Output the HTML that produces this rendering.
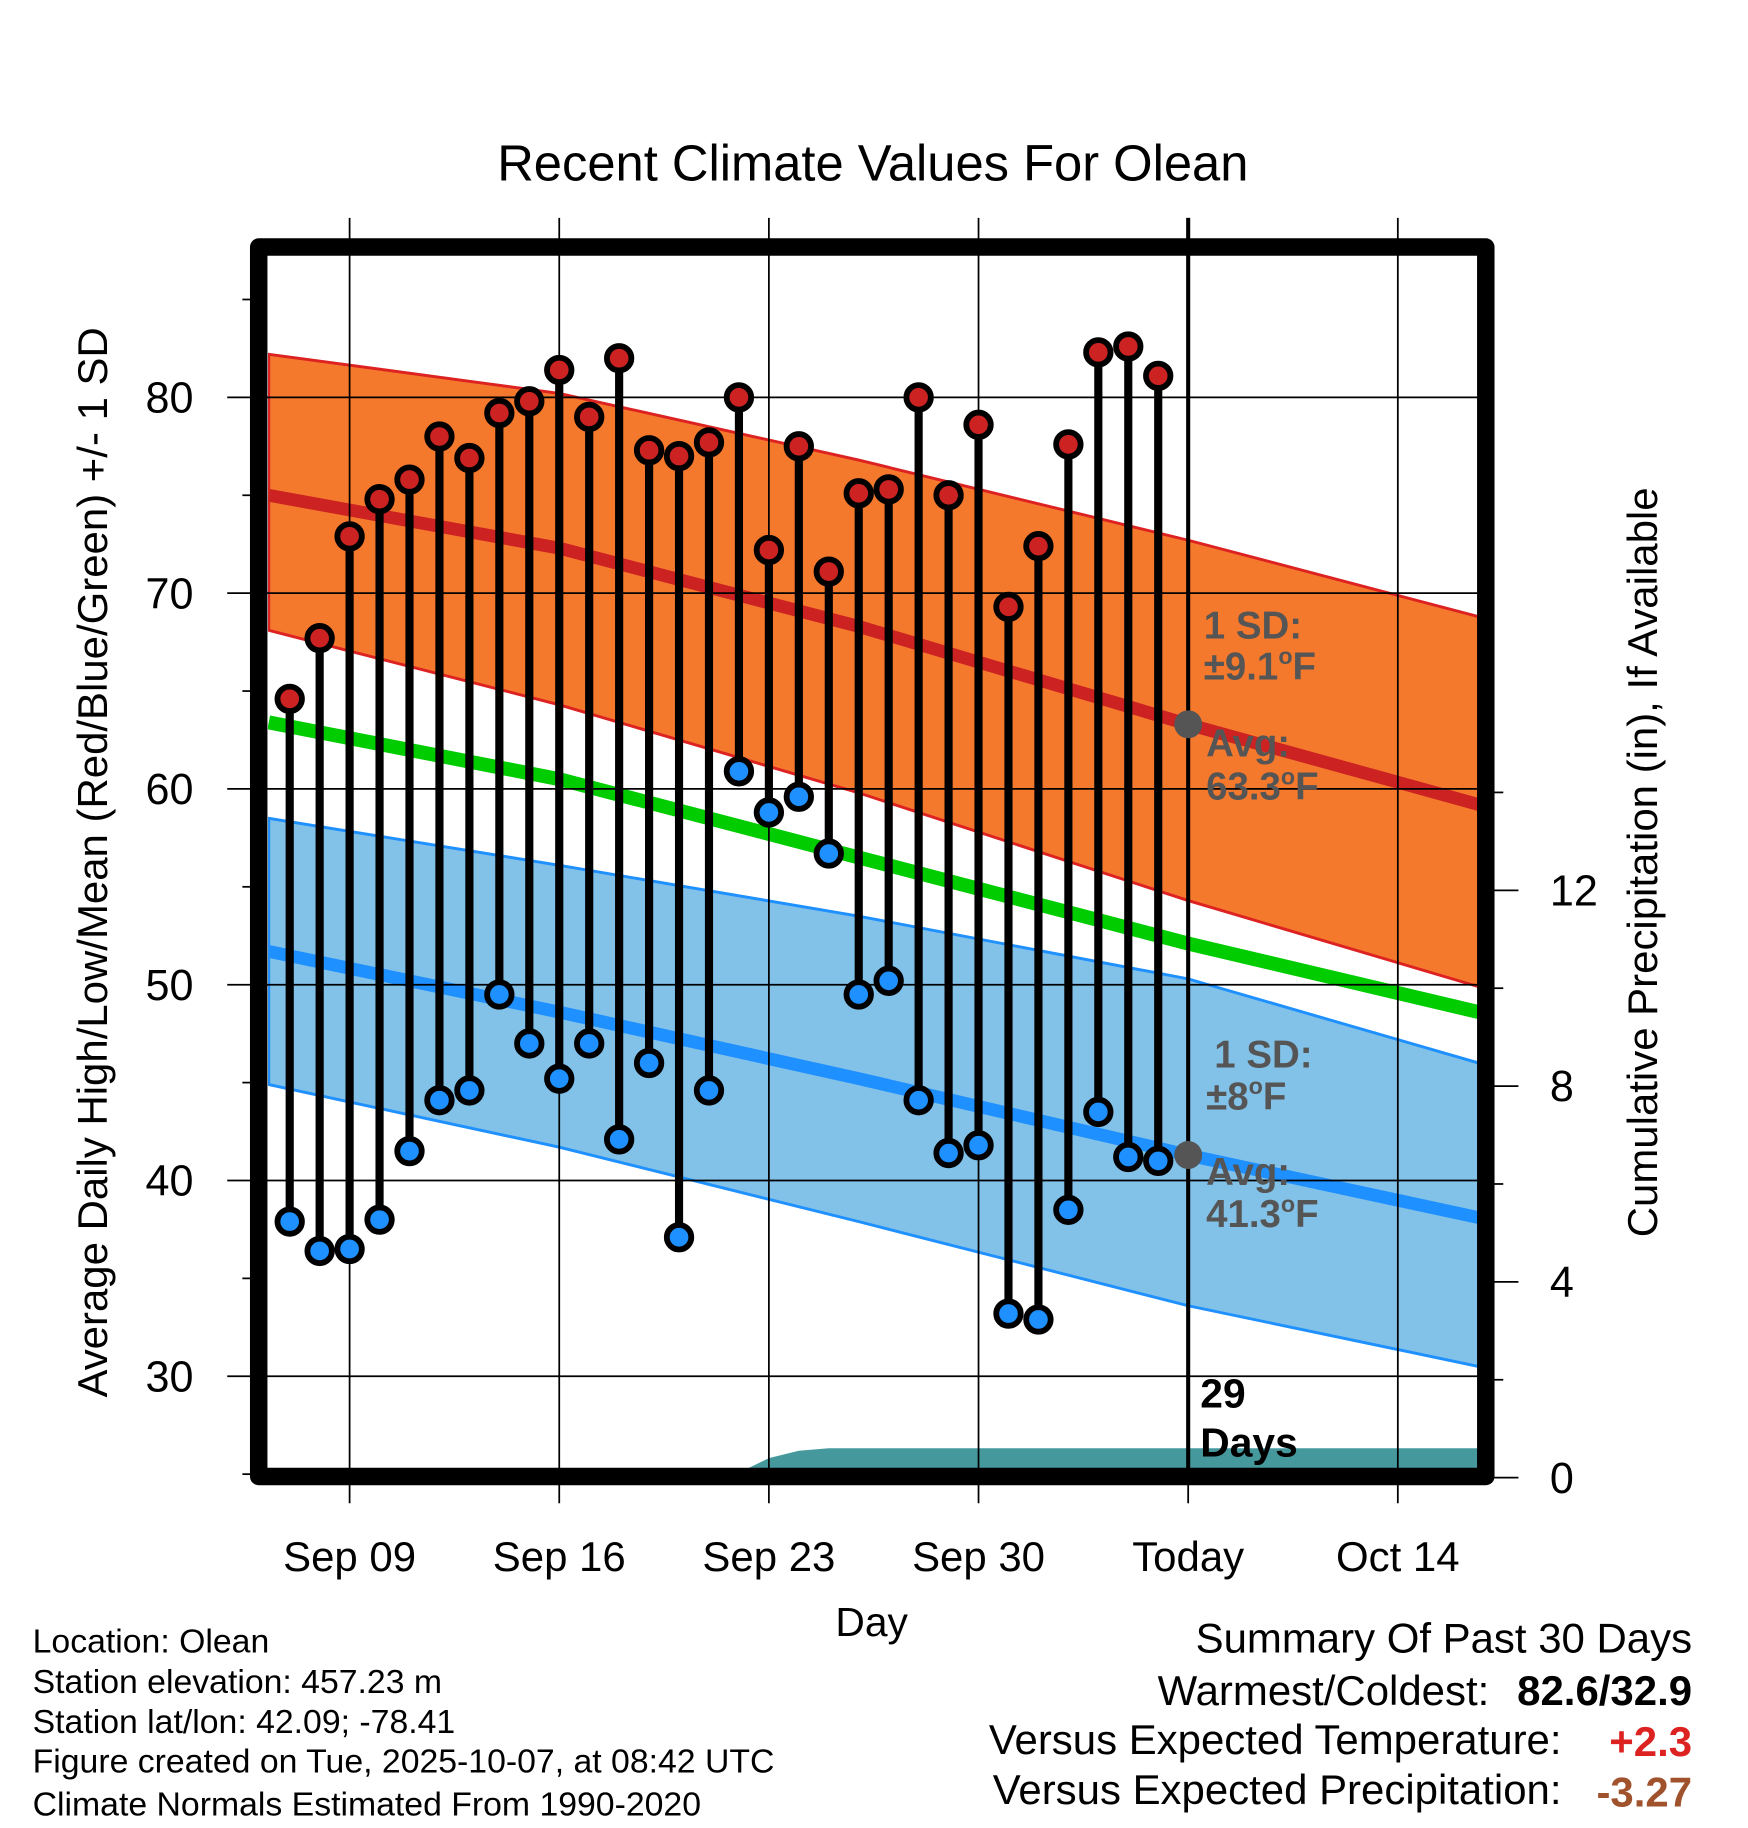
<!DOCTYPE html>
<html><head><meta charset="utf-8"><style>
html,body{margin:0;padding:0;background:#fff}
svg{display:block;font-family:"Liberation Sans",Arial,sans-serif}
</style></head><body>
<svg id="chart" width="1748" height="1828" viewBox="0 0 1500 1568.65" preserveAspectRatio="none" xmlns="http://www.w3.org/2000/svg">
<text x="749" y="155" font-size="43.5" text-anchor="middle">Recent Climate Values For Olean</text>
<g id="bands"></g><g id="grid"></g><g id="marks"></g><g id="frame"></g>
<text transform="translate(92,740) rotate(-90)" font-size="36" text-anchor="middle">Average Daily High/Low/Mean (Red/Blue/Green) +/- 1 SD</text>
<text transform="translate(1422,740) rotate(-90)" font-size="36" text-anchor="middle">Cumulative Precipitation (in), If Available</text>
<text x="748" y="1404" font-size="35" text-anchor="middle">Day</text>
<g font-size="33" font-weight="bold" fill="#555">
<text x="1033" y="548">1 SD:</text><text x="1033" y="583">±9.1<tspan font-size="20" dy="-13">o</tspan><tspan dy="13">F</tspan></text>
<text x="1035" y="649">Avg:</text><text x="1035" y="686">63.3<tspan font-size="20" dy="-13">o</tspan><tspan dy="13">F</tspan></text>
</g>
<g font-size="33" font-weight="bold" fill="#555">
<text x="1042" y="916">1 SD:</text><text x="1035" y="952">±8<tspan font-size="20" dy="-13">o</tspan><tspan dy="13">F</tspan></text>
<text x="1035" y="1017">Avg:</text><text x="1035" y="1053">41.3<tspan font-size="20" dy="-13">o</tspan><tspan dy="13">F</tspan></text>
</g>
<g font-size="35" font-weight="bold"><text x="1030" y="1208">29</text><text x="1030" y="1250">Days</text></g>
<g font-size="29">
<text x="28" y="1418">Location: Olean</text>
<text x="28" y="1453">Station elevation: 457.23 m</text>
<text x="28" y="1487">Station lat/lon: 42.09; -78.41</text>
<text x="28" y="1521">Figure created on Tue, 2025-10-07, at 08:42 UTC</text>
<text x="28" y="1558">Climate Normals Estimated From 1990-2020</text>
</g>
<g font-size="36" text-anchor="end">
<text x="1452" y="1418">Summary Of Past 30 Days</text>
<text x="1278" y="1463">Warmest/Coldest:</text>
<text x="1452" y="1463" font-weight="bold">82.6/32.9</text>
<text x="1340" y="1505">Versus Expected Temperature:</text>
<text x="1452" y="1507" font-weight="bold" fill="#d22">+2.3</text>
<text x="1340" y="1548">Versus Expected Precipitation:</text>
<text x="1452" y="1550" font-weight="bold" fill="#a0522d">-3.27</text>
</g>
</svg>
<script>
// data: day index 0 = Sep 7
const highs=[64.6,67.7,72.9,74.8,75.8,78.0,76.9,79.2,79.8,81.4,79.0,82.0,77.3,77.0,77.7,80.0,72.2,77.5,71.1,75.1,75.3,80.0,75.0,78.6,69.3,72.4,77.6,82.3,82.6,81.1];
const lows=[37.9,36.4,36.5,38.0,41.5,44.1,44.6,49.5,47.0,45.2,47.0,42.1,46.0,37.1,44.6,60.9,58.8,59.6,56.7,49.5,50.2,44.1,41.4,41.8,33.2,32.9,38.5,43.5,41.2,41.0];
const normDays=[-0.7,9,19,30,39.7];
const highUpper=[82.2,80.2,76.8,72.7,68.8];
const highMean=[75.0,72.3,68.3,63.3,59.2];
const highLower=[68.1,64.3,59.8,54.3,49.9];
const dailyMean=[63.4,60.5,56.5,52.1,48.6];
const lowUpper=[58.5,56.1,53.5,50.3,46.0];
const lowMean=[51.7,48.6,45.2,41.3,38.1];
const lowLower=[44.9,41.7,37.9,33.6,30.5];
const precipDays=[-0.7,14,15,16,17,18,39.7];
const precipVals=[0,0,0.1,0.4,0.55,0.6,0.6];
const tempTicks=[30,40,50,60,70,80];
const precipTicks=[0,4,8,12];
const xTickDays=[2,9,16,23,30,37];
const xTickLabels=["Sep 09","Sep 16","Sep 23","Sep 30","Today","Oct 14"];

const X=d=>248.6+d*25.7, Y=t=>341-(t-80)*16.8, P=p=>1268-p*42;
const NS="http://www.w3.org/2000/svg";
function mk(tag,parent,attrs){const e=document.createElementNS(NS,tag);for(const k in attrs)e.setAttribute(k,attrs[k]);document.getElementById(parent).appendChild(e);return e;}
function pts(ds,vs,f){return ds.map((d,i)=>X(d).toFixed(1)+","+f(vs[i]).toFixed(1));}
function curve(ds,vs){return "M"+pts(ds,vs,Y).join(" L");}
function band(ds,up,lo){return "M"+pts(ds,up,Y).join(" L")+" L"+pts(ds,lo,Y).reverse().join(" L")+"Z";}
let e;
e=mk('clipPath','bands',{id:'clip'});
const cr=document.createElementNS(NS,'rect');cr.setAttribute('x',230);cr.setAttribute('y',219);cr.setAttribute('width',1038);cr.setAttribute('height',1042);e.appendChild(cr);
const g=mk('g','bands',{'clip-path':'url(#clip)'});g.id='bandg';
e=mk('path','bandg',{d:band(normDays,highUpper,highLower),fill:'#f5792d',stroke:'#d22',"stroke-width":2.5});

e=mk('path','bandg',{d:band(normDays,lowUpper,lowLower),fill:'#82c1e8',stroke:'#1e90ff',"stroke-width":2.5});

e=mk('path','bandg',{d:curve(normDays,highMean),fill:'none',stroke:'#cc2222',"stroke-width":11});

e=mk('path','bandg',{d:curve(normDays,lowMean),fill:'none',stroke:'#1e90ff',"stroke-width":11});

e=mk('path','bandg',{d:curve(normDays,dailyMean),fill:'none',stroke:'#00cc00',"stroke-width":12});

e=mk('path','bandg',{d:"M"+pts(precipDays,precipVals,P).join(" L")+" L"+X(39.7)+","+P(0)+" L"+X(-0.7)+","+P(0)+"Z",fill:'#45999d'});

tempTicks.forEach(t=>{e=mk('line','grid',{x1:195,x2:1280,y1:Y(t),y2:Y(t),stroke:'#000',"stroke-width":1.5});

e=mk('text','grid',{x:166,y:Y(t)+13,"font-size":37,"text-anchor":"end"});e.textContent=t;

e=mk('line','grid',{x1:208,x2:216,y1:Y(t+5),y2:Y(t+5),stroke:'#000',"stroke-width":1.5});
});
e=mk('line','grid',{x1:208,x2:216,y1:Y(25),y2:Y(25),stroke:'#000',"stroke-width":1.5});

precipTicks.forEach(p=>{e=mk('line','grid',{x1:1280,x2:1303,y1:P(p),y2:P(p),stroke:'#000',"stroke-width":1.5});

e=mk('line','grid',{x1:1280,x2:1290,y1:P(p+2),y2:P(p+2),stroke:'#000',"stroke-width":1.5});

e=mk('text','grid',{x:1330,y:P(p)+13,"font-size":37});e.textContent=p;
});
xTickDays.forEach((d,i)=>{e=mk('line','grid',{x1:X(d),x2:X(d),y1:187,y2:1290,stroke:'#000',"stroke-width":1.5});

e=mk('text','grid',{x:X(d),y:1348,"font-size":36,"text-anchor":"middle"});e.textContent=xTickLabels[i];
});
e=mk('line','grid',{x1:X(30),x2:X(30),y1:187,y2:1262,stroke:'#000',"stroke-width":3.5});

highs.forEach((h,i)=>{e=mk('line','marks',{x1:X(i),x2:X(i),y1:Y(h),y2:Y(lows[i]),stroke:'#000',"stroke-width":7});
});
highs.forEach((h,i)=>{e=mk('circle','marks',{cx:X(i),cy:Y(h),r:10.5,fill:'#cc2222',stroke:'#000',"stroke-width":5});

e=mk('circle','marks',{cx:X(i),cy:Y(lows[i]),r:10.5,fill:'#1e90ff',stroke:'#000',"stroke-width":5});
});
e=mk('circle','marks',{cx:X(30),cy:Y(highMean[3]),r:12,fill:'#555'});

e=mk('circle','marks',{cx:X(30),cy:Y(lowMean[3]),r:12,fill:'#555'});

e=mk('rect','frame',{x:222,y:212,width:1053,height:1055,fill:'none',stroke:'#000',"stroke-width":15,"stroke-linejoin":"round"});

</script>
</body></html>
